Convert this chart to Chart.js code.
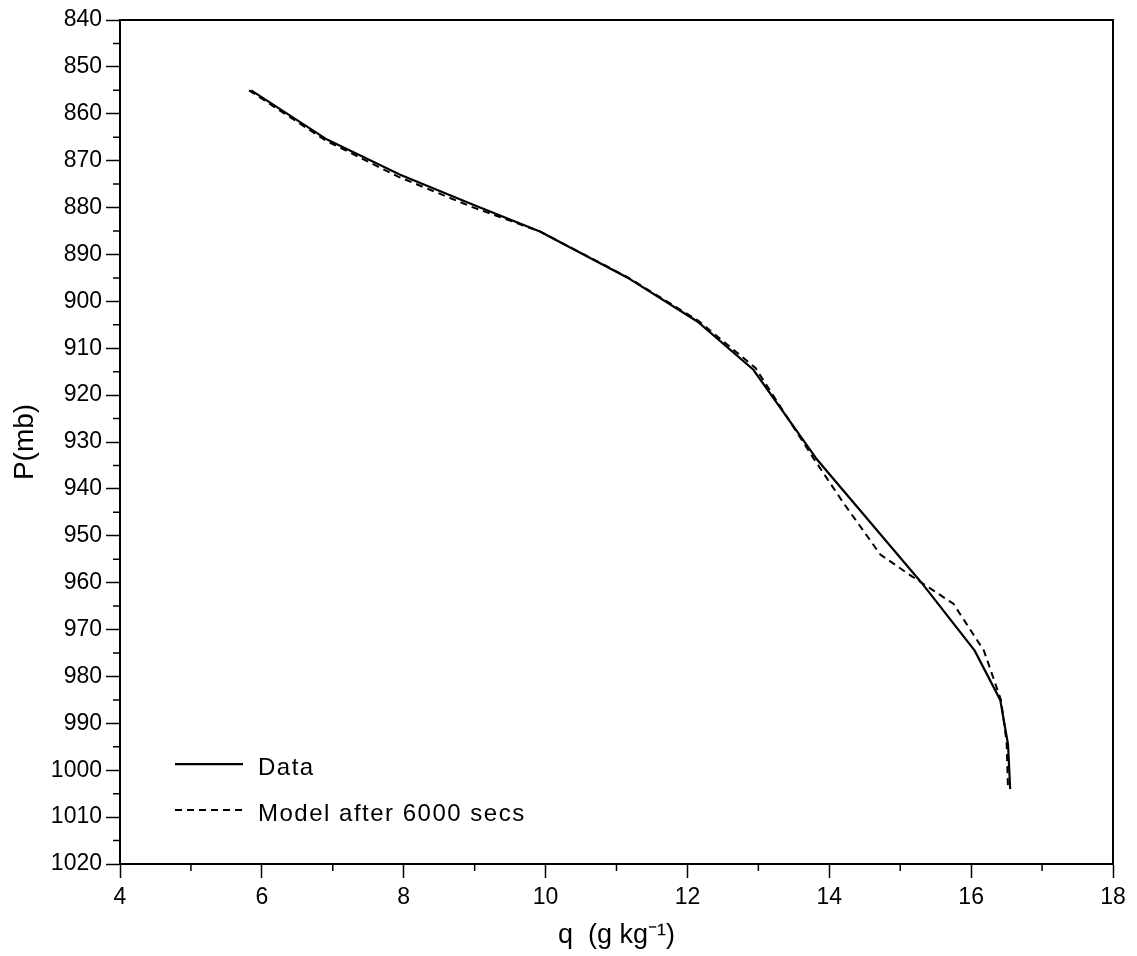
<!DOCTYPE html>
<html>
<head>
<meta charset="utf-8">
<script src="https://cdn.jsdelivr.net/npm/chart.js@4.4.1/dist/chart.umd.min.js"></script>
<style>
  body { margin: 0; background: #fff; }
</style>
</head>
<body>
<canvas id="grafico" width="1137" height="956"></canvas>
<script>
// valores
var dataQ = [5.85, 6.92, 7.95, 8.98, 9.92, 11.15, 12.14, 12.93, 13.83, 15.3, 16.05, 16.41, 16.52, 16.55];
var dataP = [855, 865.5, 873, 879.4, 885.1, 894.9, 904.3, 914.6, 933.8, 960, 974.5, 985, 994.5, 1004];
var modelQ = [5.82, 6.9, 7.92, 8.95, 9.92, 11.15, 12.15, 12.96, 13.8, 14.2, 14.72, 15.15, 15.75, 16.18, 16.42, 16.5, 16.52];
var modelP = [855, 865.7, 873.4, 879.8, 885.1, 894.8, 904.1, 914.2, 934, 943, 954, 958.5, 964.5, 974.5, 985, 994, 1004];
var xMinor = [5, 7, 9, 11, 13, 15, 17];
var yMinor = [845, 855, 865, 875, 885, 895, 905, 915, 925, 935, 945, 955, 965, 975, 985, 995, 1005, 1015];
var legendLabels = ["Data", "Model after 6000 secs"];

var fonte = "'Liberation Sans', Arial, sans-serif";

function pontos(xs, ys) {
    var out = [];
    for (var i = 0; i < xs.length; i++) out.push({x: xs[i], y: ys[i]});
    return out;
}

var moldura = {
    id: 'moldura',
    afterDraw: function (chart) {
        var ctx = chart.ctx, a = chart.chartArea;
        var sx = chart.scales.x, sy = chart.scales.y;
        ctx.save();
        ctx.strokeStyle = '#000';
        ctx.lineWidth = 2;
        ctx.beginPath();
        ctx.moveTo(a.left, a.top);
        ctx.lineTo(a.right, a.top);
        ctx.lineTo(a.right, a.bottom);
        ctx.stroke();
        // ticks menores
        ctx.lineWidth = 1.5;
        ctx.beginPath();
        xMinor.forEach(function (v) {
            var px = sx.getPixelForValue(v);
            ctx.moveTo(px, a.bottom);
            ctx.lineTo(px, a.bottom + 7);
        });
        yMinor.forEach(function (v) {
            var py = sy.getPixelForValue(v);
            ctx.moveTo(a.left - 7, py);
            ctx.lineTo(a.left, py);
        });
        ctx.stroke();
        // legenda
        var ds = chart.data.datasets;
        var linhas = [sy.getPixelForValue(998.7), sy.getPixelForValue(1008.5)];
        ctx.font = '24px ' + fonte;
        ctx.fillStyle = '#000';
        ctx.textBaseline = 'middle';
        ctx.letterSpacing = '1.5px';
        for (var i = 0; i < ds.length; i++) {
            var y = linhas[i];
            ctx.lineWidth = ds[i].borderWidth;
            ctx.setLineDash(ds[i].borderDash || []);
            ctx.beginPath();
            ctx.moveTo(175, y);
            ctx.lineTo(243, y);
            ctx.stroke();
            ctx.setLineDash([]);
            ctx.fillText(legendLabels[i], 258, y + 4);
        }
        ctx.restore();
    }
};

var ctx = document.getElementById('grafico');
var grafico = new Chart(ctx, {
    type: 'scatter',
    data: {
        datasets: [{
            label: legendLabels[0],
            data: pontos(dataQ, dataP),
            showLine: true,
            borderColor: '#000',
            borderWidth: 2.2,
            pointRadius: 0,
            tension: 0
        }, {
            label: legendLabels[1],
            data: pontos(modelQ, modelP),
            showLine: true,
            borderColor: '#000',
            borderWidth: 2,
            borderDash: [7, 5],
            pointRadius: 0,
            tension: 0
        }]
    },
    options: {
        responsive: false,
        animation: false,
        layout: { padding: { left: 0, top: 20, right: 24, bottom: 0 } },
        plugins: {
            legend: { display: false },
            tooltip: { enabled: false }
        },
        scales: {
            x: {
                type: 'linear',
                min: 4,
                max: 18,
                ticks: {
                    stepSize: 2, color: '#000', font: { family: fonte, size: 23 }, padding: 6, maxRotation: 0,
                    callback: function (v) { return String(v); }
                },
                grid: { drawOnChartArea: false, drawTicks: true, tickLength: 14, tickColor: '#000', tickWidth: 1.5 },
                border: { display: true, color: '#000', width: 2 },
                title: { display: true, text: 'q  (g kg\u207B\u00B9)', color: '#000', font: { family: fonte, size: 27 }, padding: { top: 0, bottom: 4 } },
                afterFit: function (s) { s.height = 92; }
            },
            y: {
                type: 'linear',
                reverse: true,
                min: 840,
                max: 1020,
                ticks: {
                    stepSize: 10, color: '#000', font: { family: fonte, size: 23 }, padding: 4,
                    callback: function (v) { return String(v); }
                },
                grid: { drawOnChartArea: false, drawTicks: true, tickLength: 14, tickColor: '#000', tickWidth: 1.5 },
                border: { display: true, color: '#000', width: 2 },
                title: { display: true, text: 'P(mb)', color: '#000', font: { family: fonte, size: 28 }, padding: { top: 8, bottom: 0 } },
                afterFit: function (s) { s.width = 120; }
            }
        }
    },
    plugins: [moldura]
});
</script>
</body>
</html>
